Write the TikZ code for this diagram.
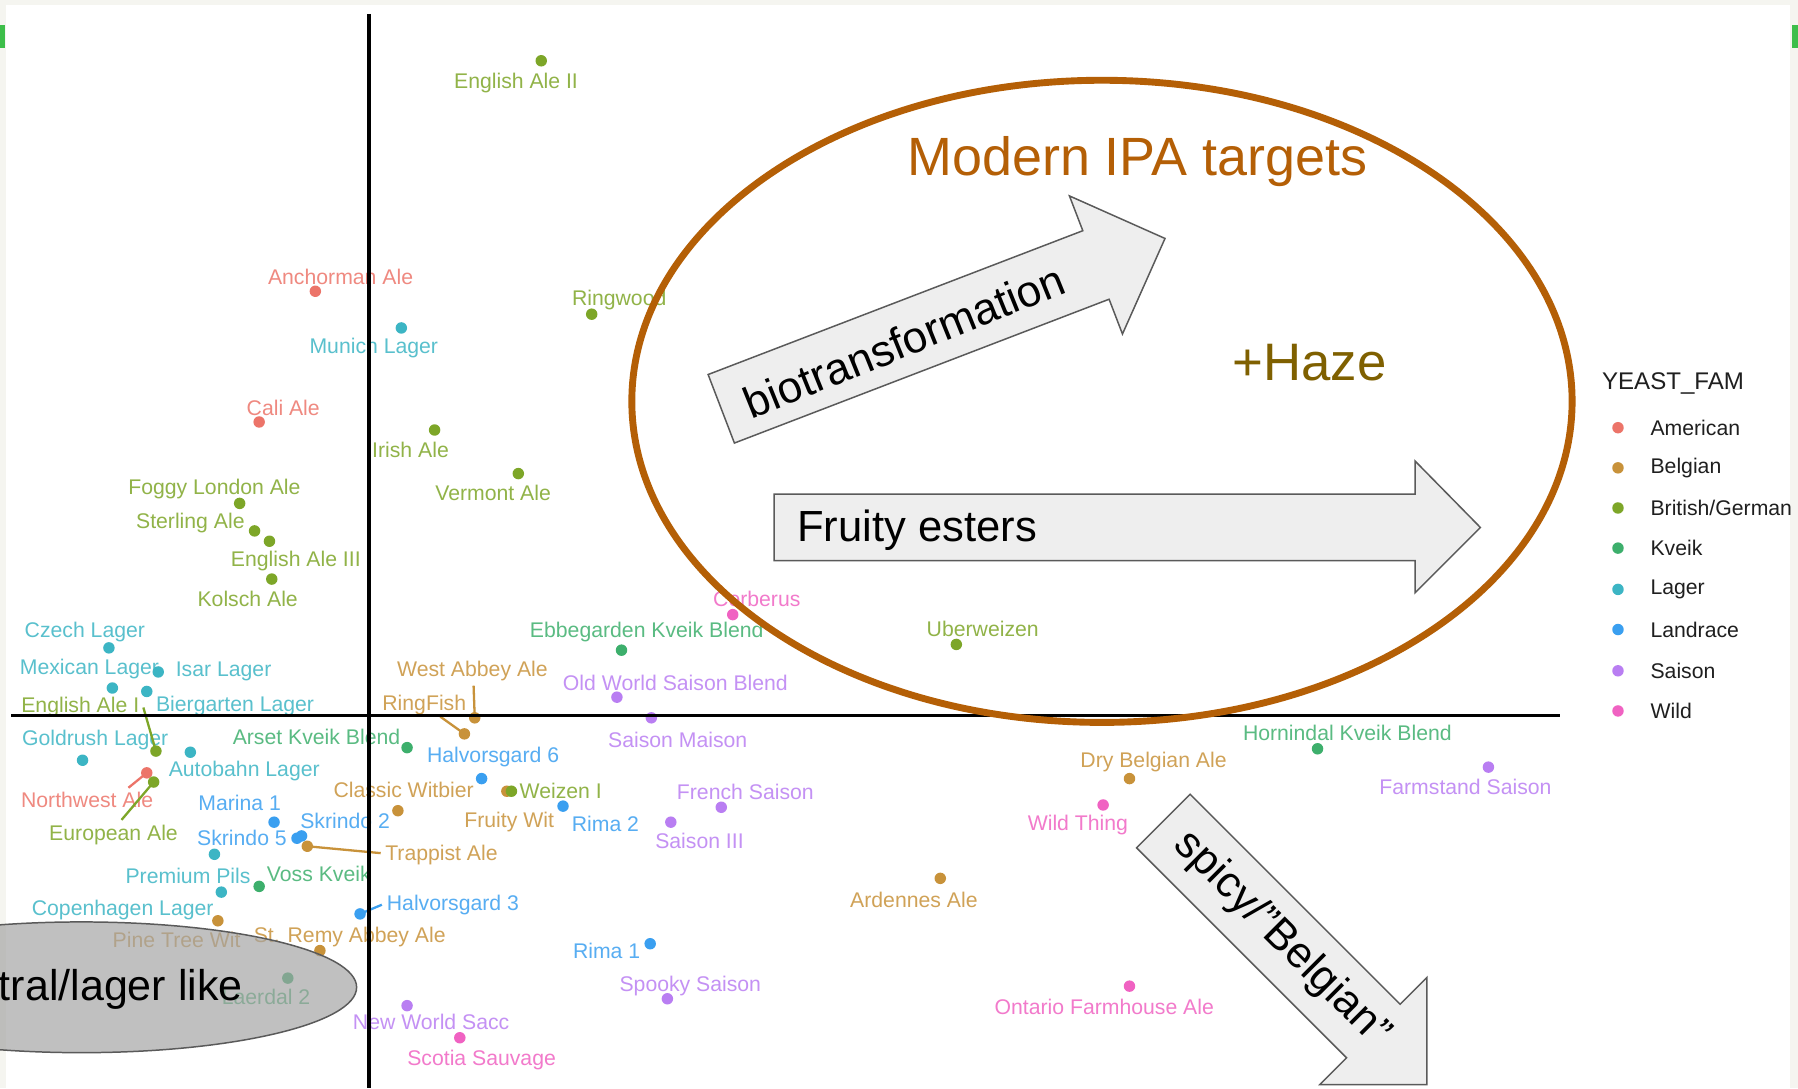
\documentclass[tikz,border=0pt]{standalone}
\usepackage{fontspec}
\setmainfont{Liberation Sans}
\usetikzlibrary{positioning}

\definecolor{cAmer}{HTML}{EC7469}
\definecolor{cBelg}{HTML}{C8923A}
\definecolor{cBrit}{HTML}{7DA628}
\definecolor{cKveik}{HTML}{3DAF6C}
\definecolor{cLager}{HTML}{3CB5C4}
\definecolor{cLand}{HTML}{3A9FF0}
\definecolor{cSais}{HTML}{B97EF2}
\definecolor{cWild}{HTML}{F062C2}
\definecolor{ipaOrange}{HTML}{B45F06}
\definecolor{hazeOlive}{HTML}{7F6000}
\definecolor{frameGrey}{HTML}{F5F5F0}
\definecolor{markGreen}{HTML}{3DBE4A}
\definecolor{arrowFill}{HTML}{EEEEEE}
\definecolor{edgeGrey}{HTML}{5A5A5A}

\newcommand{\lblfont}{\fontsize{18.5}{20}\selectfont}
% name, dot x, dot y, label x, label y, colour, text
\newcommand{\beer}[7]{%
  \node[lbl=#6] (#1-l) at (#4,#5) {#7};
  \node[pnt=#6] (#1) at (#2,#3) {};
}

\begin{document}
\begin{tikzpicture}[x=1pt, y=-1pt,
    pnt/.style={circle, fill=#1, inner sep=0pt, minimum size=10pt},
    lbl/.style={text=#1!85!white, inner sep=0pt, yshift=-1.5pt, font=\lblfont},
    lead/.style={draw=#1, line width=2pt},
    axisline/.style={line width=3.2pt, black},
    blockarrow/.style={fill=arrowFill, draw=edgeGrey, line width=1.3pt},
    bigtext/.style={inner sep=0pt, font=\fontsize{38}{40}\selectfont},
    lgd/.style={inner sep=0pt, text=black!88, font=\lblfont}]
    \useasboundingbox (0,0) rectangle (1568,949);

    % page frame
    \fill[frameGrey] (0,0) rectangle (1568,949);
    \fill[white] (5,4) rectangle (1561,949);
    \fill[markGreen] (0,22) rectangle (4,42);
    \fill[markGreen] (1563,22) rectangle (1568,42);

    % upper half
    \beer{eng2}{472}{53}{450}{71}{cBrit}{English Ale II}
    \beer{anchor}{275}{254}{297}{240}{cAmer}{Anchorman Ale}
    \beer{munich}{350}{286}{326}{302}{cLager}{Munich Lager}
    \beer{ringwood}{516}{274}{540}{260}{cBrit}{Ringwood}
    \beer{cali}{226}{368}{247}{354}{cAmer}{Cali Ale}
    \beer{irish}{379}{375}{358}{391}{cBrit}{Irish Ale}
    \beer{vermont}{452}{413}{430}{428}{cBrit}{Vermont Ale}
    \beer{foggy}{209}{439}{187}{425}{cBrit}{Foggy London Ale}
    \beer{sterling}{222}{463}{166}{455}{cBrit}{Sterling Ale}
    \beer{eng3}{235}{472}{258}{488}{cBrit}{English Ale III}
    \beer{kolsch}{237}{505}{216}{521}{cBrit}{Kolsch Ale}
    \beer{czech}{95}{565}{74}{550}{cLager}{Czech Lager}
    \beer{mexican}{98}{600}{78}{582}{cLager}{Mexican Lager}
    \beer{isar}{138}{586}{195}{584}{cLager}{Isar Lager}
    \beer{biergarten}{128}{603}{205}{614}{cLager}{Biergarten Lager}
    \beer{eng1}{136}{655}{70}{615}{cBrit}{English Ale I}
    \beer{westabbey}{414}{626}{412}{584}{cBelg}{West Abbey Ale}
    \beer{ringfish}{405}{640}{370}{613}{cBelg}{RingFish}
    \beer{ebbe}{542}{567}{564}{550}{cKveik}{Ebbegarden Kveik Blend}
    \beer{oldworld}{538}{608}{589}{594}{cSais}{Old World Saison Blend}
    \beer{cerberus}{639}{536}{660}{521}{cWild}{Cerberus}
    \beer{uber}{834}{562}{857}{547}{cBrit}{Uberweizen}

    % lower half
    \beer{goldrush}{72}{663}{83}{644}{cLager}{Goldrush Lager}
    \beer{autobahn}{166}{656}{213}{671}{cLager}{Autobahn Lager}
    \beer{northwest}{128}{674}{76}{696}{cAmer}{Northwest Ale}
    \beer{european}{134}{682}{99}{727}{cBrit}{European Ale}
    \beer{arset}{355}{652}{276}{641}{cKveik}{Arset Kveik Blend}
    \beer{halv6}{420}{679}{430}{659}{cLand}{Halvorsgard 6}
    \beer{witbier}{347}{707}{352}{687}{cBelg}{Classic Witbier}
    \beer{fruitywit}{442}{690}{444}{715}{cBelg}{Fruity Wit}
    \beer{weizen}{446}{690}{489}{688}{cBrit}{Weizen I}
    \beer{rima2}{491}{703}{528}{717}{cLand}{Rima 2}
    \beer{marina}{239}{717}{209}{699}{cLand}{Marina 1}
    \beer{skrindo2}{263}{729}{301}{714}{cLand}{Skrindo 2}
    \beer{skrindo5}{259}{731}{211}{729}{cLand}{Skrindo 5}
    \beer{trappist}{268}{738}{385}{744}{cBelg}{Trappist Ale}
    \beer{pils}{187}{745}{164}{762}{cLager}{Premium Pils}
    \beer{voss}{226}{773}{278}{761}{cKveik}{Voss Kveik}
    \beer{copenhagen}{193}{778}{107}{792}{cLager}{Copenhagen Lager}
    \beer{halv3}{314}{797}{395}{788}{cLand}{Halvorsgard 3}
    \beer{pinetree}{190}{803}{154}{818}{cBelg}{Pine Tree Wit}
    \beer{stremy}{279}{829}{305}{816}{cBelg}{St. Remy Abbey Ale}
    \beer{laerdal}{251}{853}{232}{868}{cKveik}{Laerdal 2}
    \beer{newworld}{355}{877}{376}{890}{cSais}{New World Sacc}
    \beer{scotia}{401}{905}{420}{923}{cWild}{Scotia Sauvage}
    \beer{maison}{568}{626}{591}{644}{cSais}{Saison Maison}
    \beer{french}{629}{704}{650}{689}{cSais}{French Saison}
    \beer{saison3}{585}{717}{610}{732}{cSais}{Saison III}
    \beer{rima1}{567}{823}{529}{828}{cLand}{Rima 1}
    \beer{spooky}{582}{871}{602}{858}{cSais}{Spooky Saison}
    \beer{drybelg}{985}{679}{1006}{663}{cBelg}{Dry Belgian Ale}
    \beer{hornindal}{1149}{653}{1175}{638}{cKveik}{Hornindal Kveik Blend}
    \beer{farmstand}{1298}{669}{1278}{685}{cSais}{Farmstand Saison}
    \beer{wildthing}{962}{702}{940}{718}{cWild}{Wild Thing}
    \beer{ardennes}{820}{766}{797}{783}{cBelg}{Ardennes Ale}
    \beer{ontario}{985}{860}{963}{877}{cWild}{Ontario Farmhouse Ale}

    % leader lines
    \coordinate (eng1-e) at (125,617);
    \coordinate (westabbey-e) at (413,598);
    \coordinate (ringfish-e) at (384,625);
    \coordinate (northwest-e) at (112,687);
    \coordinate (european-e) at (106,715);
    \coordinate (trappist-e) at (332,744);
    \coordinate (halv3-e) at (333,789);
    \draw[lead=cBrit] (eng1.center) -- (eng1-e);
    \draw[lead=cBelg] (westabbey.center) -- (westabbey-e);
    \draw[lead=cBelg] (ringfish.center) -- (ringfish-e);
    \draw[lead=cAmer] (northwest.center) -- (northwest-e);
    \draw[lead=cBrit] (european.center) -- (european-e);
    \draw[lead=cBelg] (trappist.center) -- (trappist-e);
    \draw[lead=cLand] (halv3.center) -- (halv3-e);

    % axes
    \draw[axisline] (322,12) -- (322,949);
    \draw[axisline] (10,624) -- (1360,624);

    % neutral blob
    \begin{scope}
        \clip (0,0) rectangle (1568,949);
        \draw[fill=black!36, fill opacity=0.68, draw=edgeGrey, line width=1.3pt]
            (71,861) ellipse (240 and 57);
        \node[bigtext, font=\fontsize{37.5}{40}\selectfont] (neutral) at (71,863) {Neutral/lager like};
    \end{scope}

    % target ring
    \draw[ipaOrange, line width=6pt] (961,350) ellipse (410 and 280);
    \node[inner sep=0pt, text=ipaOrange, font=\fontsize{47}{50}\selectfont] (ipa) at (992,141) {Modern IPA targets};
    \node[inner sep=0pt, text=hazeOlive, font=\fontsize{46}{50}\selectfont] (haze) at (1142,316) {+Haze};

    % fruity esters arrow
    \draw[blockarrow] (675,431) -- (1234,431) -- (1234,402) -- (1291,460)
        -- (1234,517) -- (1234,489) -- (675,489) -- cycle;
    \node[bigtext, anchor=west] (esters) at (695,462) {Fruity esters};

    % biotransformation arrow
    \begin{scope}[shift={(629,356.5)}, rotate=21]
        \draw[blockarrow] (0,-32) -- (350,-32) -- (350,-64.5) -- (414.5,0)
            -- (350,64.5) -- (350,32) -- (0,32) -- cycle;
        \node[bigtext, rotate=22, font=\fontsize{38.5}{40}\selectfont] (bio) at (170,2) {biotransformation};
    \end{scope}

    % spicy arrow
    \begin{scope}[shift={(1014.5,716)}, rotate=-45]
        \draw[blockarrow] (0,-33) -- (259,-33) -- (259,-66) -- (325,0)
            -- (259,66) -- (259,33) -- (0,33) -- cycle;
        \node[bigtext, rotate=-45] (spicy) at (146,0) {spicy/”Belgian”};
    \end{scope}

    % legend
    \node[lgd, font=\fontsize{21}{24}\selectfont] (legtitle) at (1459,334) {YEAST\_FAM};
    \node[pnt=cAmer] (k1) at (1411,373) {};
    \node[pnt=cBelg] (k2) at (1411,408) {};
    \node[pnt=cBrit] (k3) at (1411,443) {};
    \node[pnt=cKveik] (k4) at (1411,478) {};
    \node[pnt=cLager] (k5) at (1411,514) {};
    \node[pnt=cLand] (k6) at (1411,549) {};
    \node[pnt=cSais] (k7) at (1411,585) {};
    \node[pnt=cWild] (k8) at (1411,620) {};
    \node[lgd, right=23pt of k1] {American};
    \node[lgd, right=23pt of k2] {Belgian};
    \node[lgd, right=23pt of k3] {British/German};
    \node[lgd, right=23pt of k4] {Kveik};
    \node[lgd, right=23pt of k5] {Lager};
    \node[lgd, right=23pt of k6] {Landrace};
    \node[lgd, right=23pt of k7] {Saison};
    \node[lgd, right=23pt of k8] {Wild};
\end{tikzpicture}
\end{document}
